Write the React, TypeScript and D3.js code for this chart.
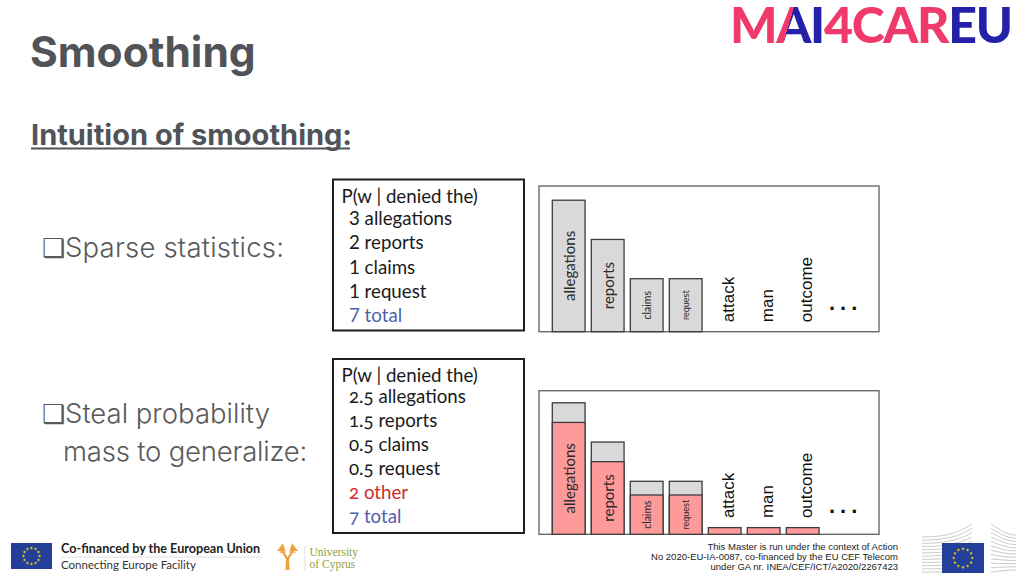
import React from "react";
import * as d3 from "d3";

// ---------- data ----------
const categories = ["allegations", "reports", "claims", "request", "attack", "man", "outcome"];
const sparseCounts = [3, 2, 1, 1, 0, 0, 0];
const smoothedCounts = [2.5, 1.5, 0.5, 0.5, 0.085, 0.085, 0.085];
const otherMass = 2;
const totalCount = 7;
const tableHeader = "P(w | denied the)";
const footerRight = [
  "This Master is run under the context of Action",
  "No 2020-EU-IA-0087, co-financed by the EU CEF Telecom",
  "under GA nr. INEA/CEF/ICT/A2020/2267423",
];

// ---------- styles ----------
const inBarFont: Record<string, number> = { allegations: 15, reports: 15, claims: 10.5, request: 9 };
const PINK = "#ff9a9a";
const GREY = "#d9d9d9";
const EDGE = "#3c3c3c";
const BLUE_TXT = "#4e5fae";
const RED_TXT = "#d02a2a";
const SLIDE_GREY = "#505357";

const W = 1024;
const H = 576;

const x = d3
  .scaleBand<string>()
  .domain(categories)
  .range([552.3, 552.3 + 39 * (categories.length - 0.16)])
  .paddingInner(0.16)
  .paddingOuter(0);
const hScale = d3.scaleLinear().domain([0, 0.5, 1, 3]).range([0, 39.3, 53, 131.5]);

function Panel({ box, base, smoothed }: { box: [number, number, number, number]; base: number; smoothed: boolean }) {
  const bw = x.bandwidth();
  const dotsX = (x("outcome") as number) + x.step() * 1.1 + bw / 2;
  return (
    <g>
      <rect x={box[0]} y={box[1]} width={box[2]} height={box[3]} fill="#fff" stroke="#6a6a6a" strokeWidth={1.4} />
      {categories.map((c, i) => {
        const x0 = x(c) as number;
        const s = sparseCounts[i];
        const m = smoothed ? smoothedCounts[i] : s;
        const els: React.ReactNode[] = [];
        if (s > 0) {
          els.push(
            <rect key="g" x={x0} y={base - hScale(s)} width={bw} height={hScale(s)} fill={GREY} stroke={EDGE} strokeWidth={1.3} />
          );
        }
        if (smoothed) {
          els.push(
            <rect key="p" x={x0} y={base - hScale(m)} width={bw} height={hScale(m)} fill={PINK} stroke={EDGE} strokeWidth={1.3} />
          );
        }
        const cx = x0 + bw / 2;
        if (s > 0) {
          const cy = base - hScale(m) / 2;
          els.push(
            <text
              key="t"
              transform={`translate(${cx},${cy}) rotate(-90)`}
              textAnchor="middle"
              dominantBaseline="central"
              fontFamily="Lato, 'Noto Sans', sans-serif"
              fontSize={inBarFont[c]}
              fill="#2a2a2a"
            >
              {c}
            </text>
          );
        } else {
          const ty = base - hScale(m) - 9.5;
          els.push(
            <text
              key="t"
              transform={`translate(${cx + 4},${ty}) rotate(-90)`}
              textAnchor="start"
              dominantBaseline="central"
              fontFamily="'Liberation Sans', Arial, sans-serif"
              fontSize={17}
              fill="#111"
            >
              {c}
            </text>
          );
        }
        return <g key={c}>{els}</g>;
      })}
      <text
        x={dotsX}
        y={base - 21.5}
        textAnchor="middle"
        fontFamily="'Liberation Sans', Arial, sans-serif"
        fontWeight="bold"
        fontSize={22}
        letterSpacing={5}
        fill="#111"
      >
        ...
      </text>
    </g>
  );
}

function Table({
  box,
  headerY,
  firstY,
  step,
  lines,
  oldstyle,
}: {
  box: [number, number, number, number];
  headerY: number;
  firstY: number;
  step: number;
  lines: { t: string; c: string }[];
  oldstyle: boolean;
}) {
  return (
    <g
      fontFamily="Lato, 'Noto Sans', sans-serif"
      fontSize={18.7}
      style={{ fontVariantNumeric: oldstyle ? "oldstyle-nums" : "lining-nums" }}
    >
      <rect x={box[0]} y={box[1]} width={box[2]} height={box[3]} fill="#fff" stroke="#1e1e1e" strokeWidth={2} />
      <text x={box[0] + 8.5} y={headerY} fill="#1a1a1a">
        {tableHeader}
      </text>
      {lines.map((l, i) => (
        <text key={i} x={box[0] + 16} y={firstY + i * step} fill={l.c}>
          {l.t}
        </text>
      ))}
    </g>
  );
}

function EUFlag({ x0, y0, w, h }: { x0: number; y0: number; w: number; h: number }) {
  const star = d3.symbol().type(d3.symbolStar).size(Math.max(2.5, w * 0.09))();
  const r = h * 0.31;
  const cx = x0 + w / 2;
  const cy = y0 + h / 2;
  return (
    <g>
      <rect x={x0} y={y0} width={w} height={h} fill="#22409a" />
      {d3.range(12).map((i) => {
        const a = (i / 12) * Math.PI * 2;
        return <path key={i} d={star as string} transform={`translate(${cx + r * Math.cos(a)},${cy + r * Math.sin(a)})`} fill="#ffdd00" />;
      })}
    </g>
  );
}

export default function App() {
  const sparseLines = categories
    .map((c, i) => ({ v: sparseCounts[i], c }))
    .filter((d) => d.v > 0)
    .map((d) => ({ t: `${d.v} ${d.c}`, c: "#1a1a1a" }));
  sparseLines.push({ t: `${totalCount} total`, c: BLUE_TXT });

  const smoothLines = categories
    .map((c, i) => ({ v: smoothedCounts[i], s: sparseCounts[i], c }))
    .filter((d) => d.s > 0)
    .map((d) => ({ t: `${d.v} ${d.c}`, c: "#1a1a1a" }));
  smoothLines.push({ t: `${otherMass} other`, c: RED_TXT });
  smoothLines.push({ t: `${totalCount} total`, c: BLUE_TXT });

  // EC building lines
  const leftWing = d3.range(12).map((i) => {
    const t = i / 11;
    const yl = 537 + t * 35;
    const yr = 524 + t * 48;
    return `M922,${yl} C950,${yl} 962,${(yl + yr) / 2} 972,${yr}`;
  });
  const rightWing = d3.range(12).map((i) => {
    const t = i / 11;
    const yl = 524 + t * 48;
    const yr = 535 + t * 35;
    return `M991,${yl} C1000,${(yl + yr) / 2} 1006,${yr} 1016,${yr}`;
  });

  return (
    <div style={{ position: "absolute", left: 0, top: 0 }}>
      <svg width={W} height={H} viewBox={`0 0 ${W} ${H}`} style={{ display: "block", background: "#fff" }}>
        <defs>
          <linearGradient id="gradA" gradientUnits="userSpaceOnUse" x1={779} y1={21} x2={799} y2={27}>
            <stop offset="0.5" stopColor="#ef3a6b" />
            <stop offset="0.5" stopColor="#2321a8" />
          </linearGradient>
        </defs>
        <rect width={W} height={H} fill="#fff" />

        {/* Logo */}
        <text x={730} y={43} fontFamily="Lato, 'DejaVu Sans', sans-serif" fontWeight={900} fontSize={50} letterSpacing={-1.3}>
          <tspan fill="#ef3a6b">M</tspan>
          <tspan fill="url(#gradA)">A</tspan>
          <tspan fill="#2321a8">I</tspan>
          <tspan fill="#ef3a6b">4CAR</tspan>
          <tspan fill="#2321a8">EU</tspan>
        </text>

        {/* Titles */}
        <text x={30} y={67} fontFamily="Inter, 'Liberation Sans', sans-serif" fontWeight={700} fontSize={42.5} fill={SLIDE_GREY}>
          Smoothing
        </text>
        <text x={31} y={145} fontFamily="Inter, 'Liberation Sans', sans-serif" fontWeight={700} fontSize={29} fill={SLIDE_GREY}>
          Intuition of smoothing:
        </text>
        <line x1={31} x2={350} y1={148.5} y2={148.5} stroke={SLIDE_GREY} strokeWidth={2} />

        {/* Left bullets */}
        <g fontFamily="Inter, 'Liberation Sans', sans-serif" fontWeight={300} fontSize={27.5} fill="#59595b">
          <text x={42} y={257} letterSpacing={0.2}>
            <tspan fontFamily="'DejaVu Sans'" fontSize={26} letterSpacing={0}>❑</tspan>Sparse statistics:
          </text>
          <text x={42} y={423}>
            <tspan fontFamily="'DejaVu Sans'" fontSize={26}>❑</tspan>Steal probability
          </text>
          <text x={63} y={461} letterSpacing={-0.2}>mass to generalize:</text>
        </g>

        {/* Tables */}
        <Table box={[333, 179.5, 191, 151]} headerY={203} firstY={225} step={24.3} lines={sparseLines} oldstyle={false} />
        <Table box={[333, 359, 191, 174]} headerY={381.7} firstY={403.3} step={24} lines={smoothLines} oldstyle={true} />

        {/* Bar panels */}
        <Panel box={[539, 186, 340, 145.7]} base={331.7} smoothed={false} />
        <Panel box={[539, 390.7, 340, 143.6]} base={534.3} smoothed={true} />

        {/* Footer left */}
        <EUFlag x0={11} y0={543} w={41} h={26} />
        <text x={61} y={553.3} fontFamily="Lato, 'Noto Sans', sans-serif" fontWeight={700} fontSize={12.6} fill="#222">
          Co-financed by the European Union
        </text>
        <line x1={61} x2={262} y1={557} y2={557} stroke="#d5d5d5" strokeWidth={0.8} />
        <text x={61} y={569.3} fontFamily="Lato, 'Noto Sans', sans-serif" fontSize={11.5} fill="#333">
          Connecting Europe Facility
        </text>

        {/* University of Cyprus */}
        <g fill="#eba53a">
          <path d="M285.5,570 L289.5,570 L289,559 L294,551 L292.5,550 L287.5,557 L282.5,550 L281,551 L286,559 Z" />
          <path d="M277,551 L283,543 L285,551 Z" />
          <path d="M290,551 L292,543 L298,551 Z" />
          <path d="M279,553 L284,546 L286,553 Z" opacity={0.7} />
          <path d="M289,553 L291,546 L296,553 Z" opacity={0.7} />
        </g>
        <line x1={305} x2={305} y1={546} y2={570} stroke="#d8d8d8" strokeWidth={0.8} />
        <g fontFamily="'Liberation Serif', 'DejaVu Serif', serif" fontSize={11.5} fill="#93a03e">
          <text x={309.5} y={556}>University</text>
          <text x={309.5} y={568}>of Cyprus</text>
        </g>

        {/* Footer right */}
        <g fontFamily="'Liberation Sans', Arial, sans-serif" fontSize={9.5} fill="#222" textAnchor="end">
          {footerRight.map((t, i) => (
            <text key={i} x={898} y={549.5 + i * 10}>
              {t}
            </text>
          ))}
        </g>

        {/* EC logo */}
        <g fill="none" stroke="#bdbdbd" strokeWidth={0.8}>
          {leftWing.map((d, i) => (
            <path key={"l" + i} d={d} />
          ))}
          {rightWing.map((d, i) => (
            <path key={"r" + i} d={d} />
          ))}
        </g>
        <EUFlag x0={942} y0={543} w={42} h={30} />
      </svg>
    </div>
  );
}
